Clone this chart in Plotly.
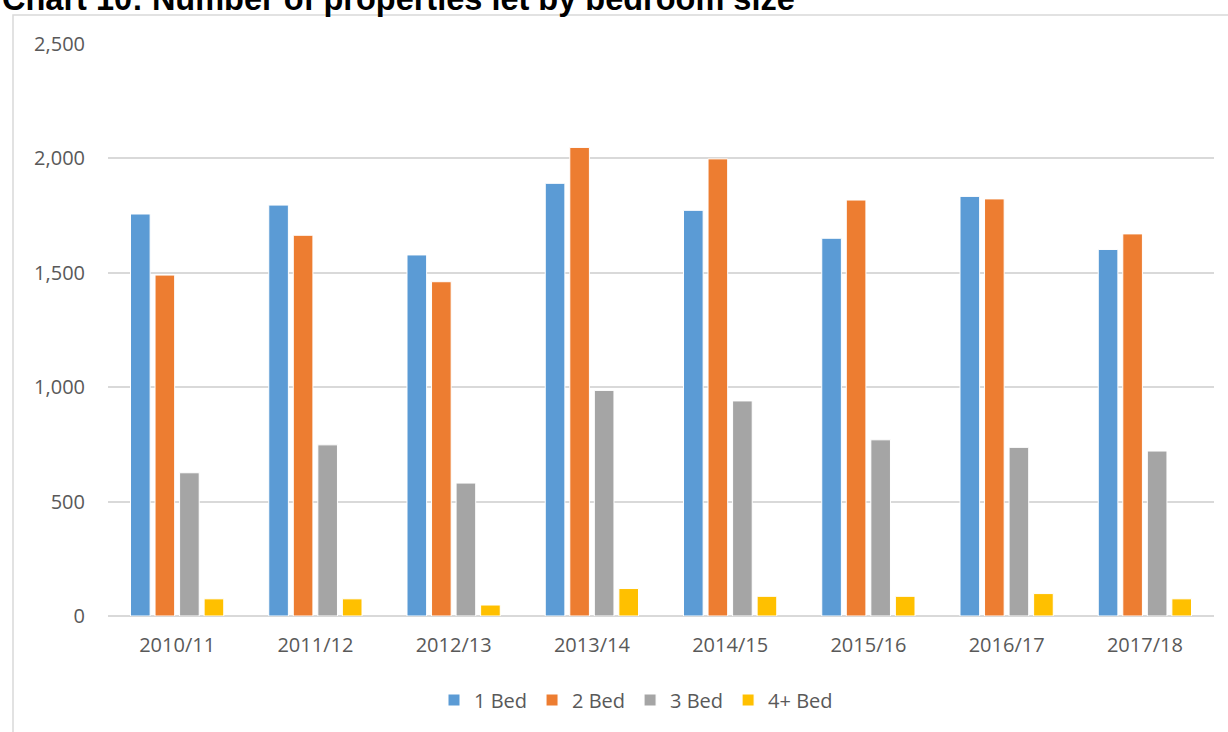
import plotly.graph_objects as go

# data
years = ["2010/11", "2011/12", "2012/13", "2013/14", "2014/15", "2015/16", "2016/17", "2017/18"]
bed1 = [1757, 1796, 1578, 1891, 1773, 1651, 1834, 1602]
bed2 = [1490, 1664, 1461, 2048, 1998, 1818, 1823, 1670]
bed3 = [626, 748, 581, 986, 940, 770, 737, 721]
bed4 = [75, 75, 48, 120, 86, 86, 98, 75]

series = [("1 Bed", bed1, "#5B9BD5"),
          ("2 Bed", bed2, "#ED7D31"),
          ("3 Bed", bed3, "#A5A5A5"),
          ("4+ Bed", bed4, "#FFC000")]

W, H = 1228, 732
L, R, T, B = 108, 14, 44, 116
pw, ph = W - L - R, H - T - B

def px_x(p):  # pixel -> paper
    return (p - L) / pw

def px_y(p):
    return (H - B - p) / ph

fig = go.Figure()
for name, vals, col in series:
    fig.add_trace(go.Bar(
        x=years, y=vals, name=name,
        marker=dict(color=col, line=dict(color="white", width=1)),
    ))

fig.update_layout(
    width=W, height=H,
    margin=dict(l=L, r=R, t=T, b=B),
    paper_bgcolor="white", plot_bgcolor="white",
    barmode="group", bargap=0.29, bargroupgap=0.2,
    font=dict(family="Open Sans, Noto Sans, sans-serif", color="#595959", size=20),
    showlegend=True,
    legend=dict(orientation="h", x=px_x(434), xanchor="left", y=px_y(700), yanchor="middle",
                font=dict(size=20, color="#595959"), itemwidth=30, traceorder="normal"),
    xaxis=dict(showgrid=False, showline=False, ticks="", ticklabelstandoff=15,
               tickfont=dict(size=20, color="#595959")),
    yaxis=dict(range=[0, 2500], dtick=500, tickformat=",", showgrid=True,
               gridcolor="#D9D9D9", gridwidth=1.5, zeroline=True, zerolinecolor="#D9D9D9",
               zerolinewidth=1.5, showline=False, ticks="", ticklabelstandoff=22,
               tickfont=dict(size=20, color="#595959")),
)

# chart area border (only top/left visible in the reference crop)
fig.add_shape(type="rect", xref="paper", yref="paper",
              x0=px_x(13), x1=px_x(W + 20), y0=px_y(H + 20), y1=px_y(15),
              line=dict(color="#D9D9D9", width=1.5), fillcolor="rgba(0,0,0,0)", layer="below")

fig.add_annotation(text="<b>Chart 10: Number of properties let by bedroom size</b>",
                   xref="paper", yref="paper", x=px_x(0), y=px_y(-1),
                   xanchor="left", yanchor="middle", showarrow=False,
                   font=dict(family="Liberation Sans, Arial, sans-serif", size=32.5, color="black"))

fig.write_html("out.html", config={"displayModeBar": False},
               post_script="document.body.style.margin='0';")
